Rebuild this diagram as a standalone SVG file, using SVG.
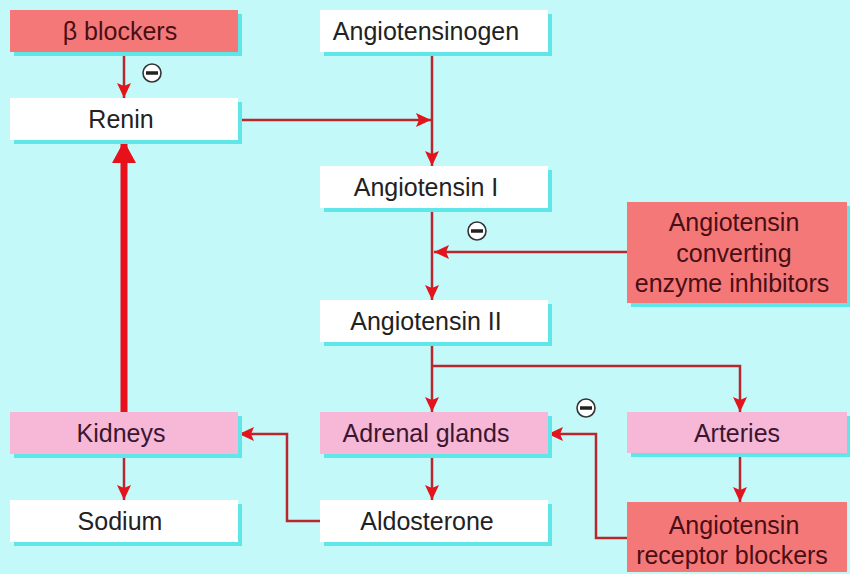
<svg xmlns="http://www.w3.org/2000/svg" width="850" height="574" viewBox="0 0 850 574">
<defs>
<marker id="ah" markerUnits="userSpaceOnUse" markerWidth="16" markerHeight="14" refX="15" refY="7" orient="auto">
<path d="M0,0 L15,7 L0,14 L3,7 Z" fill="#e4141c"/>
</marker>
<marker id="ahb" markerUnits="userSpaceOnUse" markerWidth="26" markerHeight="26" refX="22" refY="12" orient="auto">
<path d="M0,0 L22,12 L0,24 Z" fill="#e8101a"/>
</marker>
</defs>
<style>
.sh{fill:#5fe6e8}
.w{fill:#ffffff}
.r{fill:#f47878}
.p{fill:#f6b8d6}
text{font-family:"Liberation Sans",Arial,sans-serif;font-size:25px;text-anchor:middle}
.tw{fill:#222222}
.tr{fill:#4a0e14}
.tp{fill:#3a1630}
.c{fill:none;stroke:#b8262e;stroke-width:2.5;marker-end:url(#ah)}
.thick{fill:none;stroke:#e8101a;stroke-width:7;marker-end:url(#ahb)}
.minus circle{fill:#ffffff;stroke:#333333;stroke-width:1.6}
.minus line{stroke:#222222;stroke-width:3.5}
</style>
<rect width="850" height="574" fill="#c4f9f9"/>

<g id="connectors">
<path class="c" d="M124,52 V98"/>
<path class="c" d="M238,120 H431"/>
<path class="c" d="M432,52 V166"/>
<path class="c" d="M432,208 V300"/>
<path class="c" d="M627,252 H434"/>
<path class="c" d="M432,342 V412"/>
<path class="c" d="M432,366 H740 V412"/>
<path class="c" d="M432,454 V500"/>
<path class="c" d="M320,521 H287 V434 H239"/>
<path class="c" d="M627,538 H596 V434 H548"/>
<path class="c" d="M740,453 V502"/>
<path class="c" d="M124,454 V500"/>
<path class="thick" d="M124,412 V141"/>
<g class="minus"><circle cx="152" cy="73" r="9"/><line x1="146" y1="73" x2="158" y2="73"/></g>
<g class="minus"><circle cx="477" cy="231" r="9"/><line x1="471" y1="231" x2="483" y2="231"/></g>
<g class="minus"><circle cx="586" cy="408" r="9"/><line x1="580" y1="408" x2="592" y2="408"/></g>
</g>

<g id="beta-blockers"><rect class="sh" x="14" y="14" width="228" height="42"/><rect class="r" x="10" y="10" width="228" height="42"/><text class="tr" x="120" y="40">β blockers</text></g>
<g id="renin"><rect class="sh" x="14" y="102" width="228" height="42"/><rect class="w" x="10" y="98" width="228" height="42"/><text class="tw" x="121" y="128">Renin</text></g>
<g id="angiotensinogen"><rect class="sh" x="324" y="14" width="228" height="42"/><rect class="w" x="320" y="10" width="228" height="42"/><text class="tw" x="426" y="40">Angiotensinogen</text></g>
<g id="angiotensin-i"><rect class="sh" x="324" y="170" width="228" height="42"/><rect class="w" x="320" y="166" width="228" height="42"/><text class="tw" x="426" y="196">Angiotensin I</text></g>
<g id="ace-inhibitors"><rect class="sh" x="631" y="206" width="220" height="101"/><rect class="r" x="627" y="202" width="220" height="101"/><text class="tr" x="734" y="231">Angiotensin</text><text class="tr" x="734" y="262">converting</text><text class="tr" x="732" y="292">enzyme inhibitors</text></g>
<g id="angiotensin-ii"><rect class="sh" x="324" y="304" width="228" height="42"/><rect class="w" x="320" y="300" width="228" height="42"/><text class="tw" x="426" y="330">Angiotensin II</text></g>
<g id="kidneys"><rect class="sh" x="14" y="416" width="228" height="42"/><rect class="p" x="10" y="412" width="228" height="42"/><text class="tp" x="121" y="442">Kidneys</text></g>
<g id="adrenal-glands"><rect class="sh" x="324" y="416" width="228" height="42"/><rect class="p" x="320" y="412" width="228" height="42"/><text class="tp" x="426" y="442">Adrenal glands</text></g>
<g id="arteries"><rect class="sh" x="631" y="416" width="220" height="41"/><rect class="p" x="627" y="412" width="220" height="41"/><text class="tp" x="737" y="442">Arteries</text></g>
<g id="sodium"><rect class="sh" x="14" y="504" width="228" height="42"/><rect class="w" x="10" y="500" width="228" height="42"/><text class="tw" x="120" y="530">Sodium</text></g>
<g id="aldosterone"><rect class="sh" x="324" y="504" width="228" height="42"/><rect class="w" x="320" y="500" width="228" height="42"/><text class="tw" x="427" y="530">Aldosterone</text></g>
<g id="arb"><rect class="r" x="627" y="502" width="220" height="70"/><text class="tr" x="734" y="534">Angiotensin</text><text class="tr" x="732" y="564">receptor blockers</text></g>
</svg>
